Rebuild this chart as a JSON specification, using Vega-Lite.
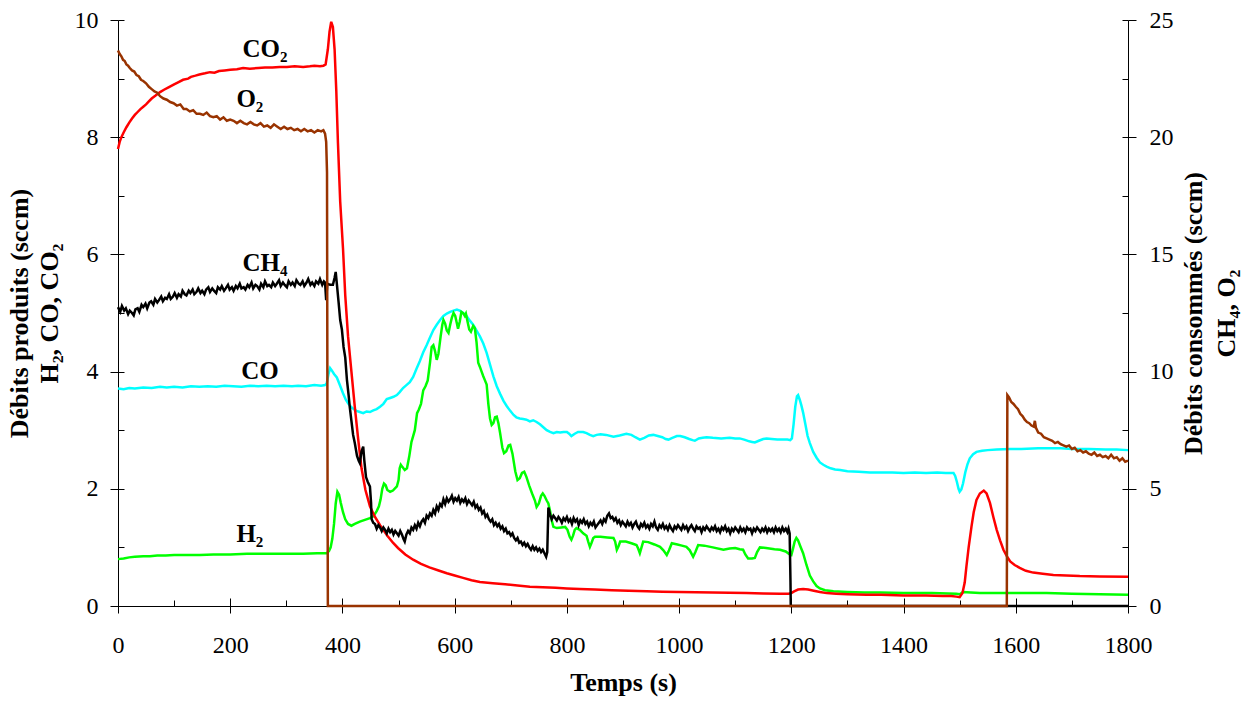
{
  "$schema": "https://vega.github.io/schema/vega-lite/v6.json",
  "width": 1010,
  "height": 586,
  "autosize": {"type": "none"},
  "padding": {"left": 118, "top": 20, "right": 123, "bottom": 98},
  "background": "white",
  "config": {
    "view": {"stroke": null},
    "axis": {
      "grid": false,
      "domainColor": "black",
      "tickColor": "black",
      "labelColor": "black",
      "titleColor": "black",
      "domainWidth": 1,
      "tickWidth": 1,
      "labelFont": "Liberation Serif",
      "titleFont": "Liberation Serif",
      "labelFontSize": 24,
      "titleFontSize": 26,
      "titleFontWeight": "bold",
      "titleLineHeight": 30,
      "labelFlush": false,
      "labelOverlap": false,
      "format": "d"
    }
  },
  "datasets": {
    "co2": [
      {"t":0,"v":7.8},{"t":3,"v":7.92},{"t":6,"v":8.0},{"t":10,"v":8.08},{"t":15,"v":8.17},{"t":20,"v":8.25},{"t":25,"v":8.32},{"t":30,"v":8.38},{"t":35,"v":8.43},{"t":40,"v":8.48},{"t":45,"v":8.52},{"t":50,"v":8.56},{"t":55,"v":8.61},{"t":60,"v":8.66},{"t":67,"v":8.71},{"t":75,"v":8.77},{"t":82,"v":8.81},{"t":90,"v":8.85},{"t":100,"v":8.9},{"t":108,"v":8.94},{"t":116,"v":8.98},{"t":125,"v":9.0},{"t":130,"v":9.03},{"t":138,"v":9.05},{"t":145,"v":9.07},{"t":155,"v":9.09},{"t":164,"v":9.11},{"t":172,"v":9.1},{"t":180,"v":9.13},{"t":190,"v":9.14},{"t":200,"v":9.15},{"t":212,"v":9.16},{"t":223,"v":9.18},{"t":235,"v":9.17},{"t":250,"v":9.18},{"t":262,"v":9.19},{"t":275,"v":9.19},{"t":288,"v":9.2},{"t":301,"v":9.2},{"t":315,"v":9.21},{"t":330,"v":9.2},{"t":342,"v":9.21},{"t":350,"v":9.22},{"t":360,"v":9.21},{"t":366,"v":9.22},{"t":370,"v":9.24},{"t":374,"v":9.5},{"t":377,"v":9.8},{"t":380,"v":9.97},{"t":383,"v":9.88},{"t":386,"v":9.5},{"t":389,"v":8.8},{"t":392,"v":7.9},{"t":396,"v":6.9},{"t":401,"v":6.1},{"t":405,"v":5.3},{"t":410,"v":4.6},{"t":416,"v":4.0},{"t":422,"v":3.4},{"t":428,"v":2.85},{"t":434,"v":2.35},{"t":441,"v":1.98},{"t":449,"v":1.7},{"t":458,"v":1.52},{"t":467,"v":1.38},{"t":480,"v":1.2},{"t":490,"v":1.08},{"t":499,"v":0.99},{"t":512,"v":0.88},{"t":526,"v":0.79},{"t":540,"v":0.72},{"t":555,"v":0.66},{"t":570,"v":0.61},{"t":586,"v":0.56},{"t":600,"v":0.52},{"t":615,"v":0.48},{"t":630,"v":0.44},{"t":645,"v":0.41},{"t":668,"v":0.39},{"t":690,"v":0.37},{"t":712,"v":0.35},{"t":734,"v":0.33},{"t":757,"v":0.32},{"t":780,"v":0.31},{"t":800,"v":0.3},{"t":823,"v":0.29},{"t":850,"v":0.28},{"t":880,"v":0.27},{"t":910,"v":0.26},{"t":942,"v":0.25},{"t":970,"v":0.245},{"t":1000,"v":0.24},{"t":1030,"v":0.235},{"t":1060,"v":0.23},{"t":1090,"v":0.225},{"t":1120,"v":0.22},{"t":1150,"v":0.215},{"t":1180,"v":0.21},{"t":1195,"v":0.21},{"t":1200,"v":0.22},{"t":1205,"v":0.25},{"t":1212,"v":0.28},{"t":1221,"v":0.29},{"t":1230,"v":0.28},{"t":1240,"v":0.26},{"t":1251,"v":0.24},{"t":1263,"v":0.22},{"t":1280,"v":0.21},{"t":1300,"v":0.2},{"t":1334,"v":0.19},{"t":1360,"v":0.19},{"t":1400,"v":0.18},{"t":1440,"v":0.18},{"t":1470,"v":0.17},{"t":1485,"v":0.17},{"t":1494,"v":0.16},{"t":1500,"v":0.15},{"t":1505,"v":0.22},{"t":1509,"v":0.4},{"t":1512,"v":0.67},{"t":1516,"v":1.0},{"t":1521,"v":1.35},{"t":1525,"v":1.6},{"t":1530,"v":1.81},{"t":1536,"v":1.92},{"t":1543,"v":1.97},{"t":1548,"v":1.92},{"t":1554,"v":1.76},{"t":1560,"v":1.52},{"t":1566,"v":1.3},{"t":1572,"v":1.12},{"t":1578,"v":0.96},{"t":1584,"v":0.85},{"t":1590,"v":0.76},{"t":1598,"v":0.7},{"t":1607,"v":0.65},{"t":1618,"v":0.6},{"t":1631,"v":0.57},{"t":1648,"v":0.55},{"t":1667,"v":0.53},{"t":1690,"v":0.52},{"t":1714,"v":0.51},{"t":1750,"v":0.505},{"t":1800,"v":0.5}
    ],
    "co": [
      {"t":0,"v":3.71},{"t":10,"v":3.7},{"t":20,"v":3.72},{"t":30,"v":3.71},{"t":45,"v":3.73},{"t":60,"v":3.72},{"t":75,"v":3.74},{"t":87,"v":3.73},{"t":100,"v":3.74},{"t":115,"v":3.73},{"t":130,"v":3.75},{"t":145,"v":3.74},{"t":160,"v":3.75},{"t":175,"v":3.74},{"t":190,"v":3.76},{"t":205,"v":3.75},{"t":220,"v":3.74},{"t":235,"v":3.76},{"t":250,"v":3.75},{"t":265,"v":3.76},{"t":280,"v":3.75},{"t":295,"v":3.76},{"t":310,"v":3.75},{"t":321,"v":3.76},{"t":335,"v":3.75},{"t":350,"v":3.77},{"t":362,"v":3.76},{"t":369,"v":3.77},{"t":372,"v":3.8},{"t":375,"v":3.95},{"t":378,"v":4.06},{"t":381,"v":4.02},{"t":385,"v":3.96},{"t":390,"v":3.9},{"t":395,"v":3.78},{"t":401,"v":3.63},{"t":406,"v":3.52},{"t":410,"v":3.46},{"t":415,"v":3.4},{"t":420,"v":3.36},{"t":425,"v":3.33},{"t":431,"v":3.31},{"t":437,"v":3.29},{"t":443,"v":3.32},{"t":449,"v":3.31},{"t":455,"v":3.34},{"t":461,"v":3.36},{"t":467,"v":3.4},{"t":473,"v":3.45},{"t":479,"v":3.53},{"t":485,"v":3.55},{"t":491,"v":3.57},{"t":497,"v":3.6},{"t":502,"v":3.65},{"t":508,"v":3.72},{"t":514,"v":3.77},{"t":520,"v":3.82},{"t":526,"v":3.91},{"t":532,"v":4.05},{"t":538,"v":4.18},{"t":544,"v":4.33},{"t":550,"v":4.45},{"t":556,"v":4.58},{"t":562,"v":4.71},{"t":568,"v":4.8},{"t":574,"v":4.88},{"t":580,"v":4.95},{"t":586,"v":4.99},{"t":592,"v":5.02},{"t":598,"v":5.04},{"t":604,"v":5.06},{"t":609,"v":5.04},{"t":615,"v":5.0},{"t":621,"v":4.95},{"t":627,"v":4.87},{"t":633,"v":4.8},{"t":639,"v":4.7},{"t":645,"v":4.6},{"t":651,"v":4.48},{"t":657,"v":4.32},{"t":663,"v":4.12},{"t":669,"v":3.92},{"t":675,"v":3.75},{"t":681,"v":3.62},{"t":687,"v":3.5},{"t":693,"v":3.41},{"t":699,"v":3.33},{"t":705,"v":3.26},{"t":710,"v":3.22},{"t":716,"v":3.2},{"t":722,"v":3.19},{"t":728,"v":3.18},{"t":734,"v":3.15},{"t":740,"v":3.17},{"t":746,"v":3.14},{"t":752,"v":3.1},{"t":758,"v":3.05},{"t":764,"v":3.0},{"t":770,"v":2.97},{"t":776,"v":2.95},{"t":782,"v":2.97},{"t":788,"v":2.96},{"t":794,"v":2.97},{"t":800,"v":2.97},{"t":804,"v":2.94},{"t":808,"v":2.9},{"t":814,"v":2.94},{"t":820,"v":2.97},{"t":829,"v":2.97},{"t":835,"v":2.95},{"t":841,"v":2.92},{"t":847,"v":2.9},{"t":853,"v":2.92},{"t":860,"v":2.93},{"t":870,"v":2.92},{"t":883,"v":2.89},{"t":894,"v":2.91},{"t":906,"v":2.94},{"t":915,"v":2.92},{"t":922,"v":2.88},{"t":930,"v":2.84},{"t":938,"v":2.87},{"t":946,"v":2.91},{"t":954,"v":2.92},{"t":962,"v":2.9},{"t":970,"v":2.88},{"t":976,"v":2.85},{"t":981,"v":2.84},{"t":988,"v":2.87},{"t":996,"v":2.9},{"t":1002,"v":2.9},{"t":1010,"v":2.88},{"t":1018,"v":2.85},{"t":1024,"v":2.83},{"t":1028,"v":2.82},{"t":1035,"v":2.86},{"t":1042,"v":2.87},{"t":1049,"v":2.88},{"t":1060,"v":2.87},{"t":1075,"v":2.86},{"t":1090,"v":2.87},{"t":1100,"v":2.86},{"t":1108,"v":2.86},{"t":1116,"v":2.84},{"t":1125,"v":2.81},{"t":1130,"v":2.8},{"t":1135,"v":2.79},{"t":1142,"v":2.82},{"t":1150,"v":2.85},{"t":1156,"v":2.86},{"t":1165,"v":2.85},{"t":1175,"v":2.84},{"t":1185,"v":2.84},{"t":1193,"v":2.84},{"t":1198,"v":2.83},{"t":1201,"v":2.86},{"t":1204,"v":3.1},{"t":1207,"v":3.4},{"t":1210,"v":3.58},{"t":1212,"v":3.6},{"t":1215,"v":3.52},{"t":1218,"v":3.42},{"t":1221,"v":3.3},{"t":1225,"v":3.1},{"t":1229,"v":2.9},{"t":1233,"v":2.78},{"t":1239,"v":2.63},{"t":1245,"v":2.53},{"t":1251,"v":2.45},{"t":1257,"v":2.41},{"t":1263,"v":2.38},{"t":1270,"v":2.35},{"t":1278,"v":2.33},{"t":1287,"v":2.32},{"t":1300,"v":2.3},{"t":1320,"v":2.29},{"t":1340,"v":2.28},{"t":1358,"v":2.28},{"t":1380,"v":2.28},{"t":1400,"v":2.27},{"t":1420,"v":2.28},{"t":1440,"v":2.27},{"t":1460,"v":2.28},{"t":1475,"v":2.27},{"t":1489,"v":2.27},{"t":1492,"v":2.22},{"t":1495,"v":2.12},{"t":1498,"v":2.0},{"t":1500,"v":1.95},{"t":1503,"v":1.99},{"t":1506,"v":2.09},{"t":1510,"v":2.28},{"t":1514,"v":2.42},{"t":1518,"v":2.52},{"t":1524,"v":2.59},{"t":1530,"v":2.63},{"t":1540,"v":2.65},{"t":1550,"v":2.66},{"t":1566,"v":2.67},{"t":1590,"v":2.68},{"t":1610,"v":2.68},{"t":1640,"v":2.69},{"t":1655,"v":2.69},{"t":1680,"v":2.69},{"t":1700,"v":2.68},{"t":1730,"v":2.68},{"t":1760,"v":2.67},{"t":1780,"v":2.67},{"t":1800,"v":2.66}
    ],
    "h2": [
      {"t":0,"v":0.8},{"t":10,"v":0.81},{"t":20,"v":0.83},{"t":30,"v":0.84},{"t":45,"v":0.85},{"t":57,"v":0.85},{"t":70,"v":0.86},{"t":85,"v":0.86},{"t":100,"v":0.87},{"t":120,"v":0.87},{"t":146,"v":0.87},{"t":170,"v":0.88},{"t":200,"v":0.88},{"t":230,"v":0.89},{"t":265,"v":0.89},{"t":300,"v":0.89},{"t":330,"v":0.89},{"t":355,"v":0.9},{"t":372,"v":0.9},{"t":376,"v":0.94},{"t":379,"v":1.0},{"t":382,"v":1.15},{"t":385,"v":1.4},{"t":388,"v":1.75},{"t":391,"v":1.95},{"t":394,"v":1.9},{"t":397,"v":1.76},{"t":401,"v":1.6},{"t":405,"v":1.48},{"t":410,"v":1.4},{"t":416,"v":1.37},{"t":422,"v":1.4},{"t":431,"v":1.44},{"t":440,"v":1.47},{"t":449,"v":1.5},{"t":455,"v":1.53},{"t":461,"v":1.62},{"t":465,"v":1.7},{"t":468,"v":1.82},{"t":471,"v":2.0},{"t":474,"v":2.09},{"t":477,"v":2.06},{"t":480,"v":1.98},{"t":485,"v":1.95},{"t":490,"v":1.97},{"t":497,"v":2.04},{"t":500,"v":2.15},{"t":502,"v":2.35},{"t":504,"v":2.41},{"t":507,"v":2.37},{"t":511,"v":2.32},{"t":515,"v":2.35},{"t":519,"v":2.55},{"t":523,"v":2.8},{"t":526,"v":2.9},{"t":529,"v":3.0},{"t":533,"v":3.29},{"t":536,"v":3.35},{"t":540,"v":3.45},{"t":544,"v":3.68},{"t":548,"v":3.75},{"t":552,"v":3.85},{"t":556,"v":4.15},{"t":559,"v":4.42},{"t":562,"v":4.45},{"t":565,"v":4.35},{"t":568,"v":4.2},{"t":571,"v":4.3},{"t":575,"v":4.6},{"t":578,"v":4.8},{"t":580,"v":4.88},{"t":583,"v":4.82},{"t":586,"v":4.7},{"t":589,"v":4.66},{"t":592,"v":4.8},{"t":595,"v":4.92},{"t":598,"v":5.0},{"t":601,"v":4.95},{"t":604,"v":4.82},{"t":606,"v":4.73},{"t":609,"v":4.85},{"t":612,"v":5.02},{"t":615,"v":5.0},{"t":618,"v":4.95},{"t":620,"v":4.99},{"t":623,"v":4.85},{"t":626,"v":4.72},{"t":629,"v":4.68},{"t":633,"v":4.78},{"t":636,"v":4.74},{"t":639,"v":4.5},{"t":642,"v":4.15},{"t":645,"v":4.08},{"t":648,"v":4.0},{"t":651,"v":3.92},{"t":654,"v":3.85},{"t":657,"v":3.78},{"t":660,"v":3.45},{"t":663,"v":3.2},{"t":666,"v":3.09},{"t":669,"v":3.12},{"t":672,"v":3.22},{"t":675,"v":3.23},{"t":678,"v":3.12},{"t":681,"v":2.95},{"t":685,"v":2.7},{"t":688,"v":2.61},{"t":692,"v":2.64},{"t":696,"v":2.74},{"t":699,"v":2.75},{"t":703,"v":2.6},{"t":708,"v":2.3},{"t":712,"v":2.15},{"t":716,"v":2.18},{"t":720,"v":2.27},{"t":724,"v":2.29},{"t":728,"v":2.2},{"t":733,"v":2.05},{"t":738,"v":1.92},{"t":743,"v":1.8},{"t":746,"v":1.69},{"t":750,"v":1.75},{"t":754,"v":1.88},{"t":757,"v":1.92},{"t":760,"v":1.88},{"t":764,"v":1.8},{"t":767,"v":1.75},{"t":770,"v":1.62},{"t":773,"v":1.46},{"t":776,"v":1.35},{"t":782,"v":1.33},{"t":790,"v":1.34},{"t":797,"v":1.35},{"t":801,"v":1.3},{"t":805,"v":1.18},{"t":808,"v":1.13},{"t":811,"v":1.2},{"t":814,"v":1.3},{"t":817,"v":1.33},{"t":823,"v":1.3},{"t":829,"v":1.24},{"t":835,"v":1.2},{"t":838,"v":1.1},{"t":841,"v":1.01},{"t":844,"v":1.08},{"t":847,"v":1.16},{"t":850,"v":1.18},{"t":860,"v":1.18},{"t":872,"v":1.17},{"t":883,"v":1.16},{"t":886,"v":1.1},{"t":889,"v":0.96},{"t":892,"v":1.02},{"t":895,"v":1.1},{"t":905,"v":1.1},{"t":915,"v":1.07},{"t":924,"v":1.04},{"t":927,"v":0.98},{"t":930,"v":0.9},{"t":933,"v":1.0},{"t":936,"v":1.1},{"t":945,"v":1.09},{"t":956,"v":1.05},{"t":966,"v":1.01},{"t":972,"v":0.95},{"t":978,"v":0.87},{"t":982,"v":0.95},{"t":987,"v":1.07},{"t":997,"v":1.05},{"t":1005,"v":1.03},{"t":1013,"v":1.01},{"t":1019,"v":0.95},{"t":1025,"v":0.84},{"t":1029,"v":0.92},{"t":1034,"v":1.04},{"t":1045,"v":1.03},{"t":1060,"v":1.0},{"t":1079,"v":0.96},{"t":1090,"v":0.98},{"t":1100,"v":0.99},{"t":1108,"v":0.97},{"t":1114,"v":0.96},{"t":1118,"v":0.88},{"t":1123,"v":0.81},{"t":1130,"v":0.81},{"t":1135,"v":0.82},{"t":1139,"v":0.92},{"t":1144,"v":1.0},{"t":1155,"v":0.99},{"t":1170,"v":0.97},{"t":1180,"v":0.96},{"t":1190,"v":0.93},{"t":1197,"v":0.88},{"t":1200,"v":0.87},{"t":1203,"v":0.98},{"t":1206,"v":1.1},{"t":1209,"v":1.16},{"t":1212,"v":1.12},{"t":1216,"v":1.02},{"t":1221,"v":0.9},{"t":1227,"v":0.7},{"t":1233,"v":0.52},{"t":1239,"v":0.42},{"t":1245,"v":0.34},{"t":1251,"v":0.3},{"t":1260,"v":0.27},{"t":1275,"v":0.25},{"t":1300,"v":0.24},{"t":1330,"v":0.23},{"t":1358,"v":0.23},{"t":1400,"v":0.22},{"t":1450,"v":0.22},{"t":1494,"v":0.21},{"t":1500,"v":0.2},{"t":1506,"v":0.24},{"t":1520,"v":0.23},{"t":1536,"v":0.22},{"t":1600,"v":0.22},{"t":1655,"v":0.22},{"t":1700,"v":0.21},{"t":1750,"v":0.2},{"t":1800,"v":0.19}
    ],
    "ch4": [
      {"t":0,"v":12.75},{"t":4,"v":12.55},{"t":7,"v":12.8},{"t":11,"v":12.6},{"t":14,"v":12.7},{"t":18,"v":12.45},{"t":21,"v":12.6},{"t":25,"v":12.5},{"t":28,"v":12.4},{"t":31,"v":12.65},{"t":35,"v":12.7},{"t":38,"v":12.55},{"t":42,"v":12.85},{"t":45,"v":12.75},{"t":49,"v":12.9},{"t":52,"v":12.7},{"t":56,"v":12.95},{"t":59,"v":13.0},{"t":63,"v":12.85},{"t":66,"v":13.1},{"t":70,"v":12.95},{"t":73,"v":13.05},{"t":77,"v":13.2},{"t":80,"v":13.0},{"t":84,"v":13.15},{"t":87,"v":13.1},{"t":91,"v":13.3},{"t":94,"v":13.1},{"t":98,"v":13.2},{"t":101,"v":13.35},{"t":105,"v":13.15},{"t":108,"v":13.3},{"t":112,"v":13.2},{"t":115,"v":13.45},{"t":119,"v":13.3},{"t":122,"v":13.25},{"t":126,"v":13.45},{"t":129,"v":13.35},{"t":133,"v":13.5},{"t":136,"v":13.3},{"t":140,"v":13.4},{"t":143,"v":13.55},{"t":147,"v":13.35},{"t":150,"v":13.45},{"t":154,"v":13.3},{"t":157,"v":13.5},{"t":161,"v":13.6},{"t":164,"v":13.4},{"t":168,"v":13.55},{"t":171,"v":13.45},{"t":175,"v":13.35},{"t":178,"v":13.6},{"t":182,"v":13.5},{"t":185,"v":13.65},{"t":189,"v":13.45},{"t":192,"v":13.55},{"t":196,"v":13.7},{"t":199,"v":13.5},{"t":203,"v":13.6},{"t":206,"v":13.45},{"t":210,"v":13.65},{"t":213,"v":13.55},{"t":217,"v":13.75},{"t":220,"v":13.55},{"t":224,"v":13.6},{"t":227,"v":13.5},{"t":231,"v":13.7},{"t":234,"v":13.6},{"t":238,"v":13.8},{"t":241,"v":13.55},{"t":245,"v":13.7},{"t":248,"v":13.65},{"t":252,"v":13.5},{"t":255,"v":13.75},{"t":259,"v":13.6},{"t":262,"v":13.85},{"t":266,"v":13.65},{"t":269,"v":13.7},{"t":273,"v":13.6},{"t":276,"v":13.8},{"t":280,"v":13.65},{"t":283,"v":13.75},{"t":287,"v":13.9},{"t":290,"v":13.65},{"t":294,"v":13.8},{"t":297,"v":13.7},{"t":301,"v":13.6},{"t":304,"v":13.85},{"t":308,"v":13.7},{"t":311,"v":13.8},{"t":315,"v":13.65},{"t":318,"v":13.9},{"t":322,"v":13.75},{"t":325,"v":13.7},{"t":329,"v":13.85},{"t":332,"v":13.65},{"t":336,"v":13.8},{"t":339,"v":13.95},{"t":343,"v":13.7},{"t":346,"v":13.8},{"t":350,"v":13.65},{"t":353,"v":13.85},{"t":357,"v":13.75},{"t":360,"v":13.95},{"t":364,"v":13.7},{"t":367,"v":13.85},{"t":369,"v":13.8},{"t":371,"v":13.05},{"t":373,"v":13.75},{"t":378,"v":13.7},{"t":383,"v":13.7},{"t":386,"v":14.0},{"t":388,"v":14.25},{"t":390,"v":13.75},{"t":393,"v":13.0},{"t":396,"v":12.2},{"t":399,"v":11.8},{"t":402,"v":11.05},{"t":405,"v":10.6},{"t":408,"v":9.65},{"t":411,"v":9.0},{"t":413,"v":8.5},{"t":416,"v":7.9},{"t":419,"v":7.3},{"t":422,"v":6.95},{"t":426,"v":6.4},{"t":429,"v":6.2},{"t":431,"v":6.1},{"t":434,"v":6.6},{"t":437,"v":6.8},{"t":439,"v":6.2},{"t":442,"v":5.5},{"t":445,"v":5.3},{"t":449,"v":5.1},{"t":451,"v":4.4},{"t":452,"v":3.7},{"t":455,"v":3.55},{"t":458,"v":3.5},{"t":461,"v":3.3},{"t":464,"v":3.45},{"t":467,"v":3.35},{"t":470,"v":3.2},{"t":473,"v":3.35},{"t":476,"v":3.25},{"t":479,"v":3.1},{"t":482,"v":3.3},{"t":485,"v":3.15},{"t":488,"v":3.25},{"t":491,"v":3.05},{"t":494,"v":3.2},{"t":497,"v":3.1},{"t":500,"v":3.0},{"t":503,"v":3.2},{"t":506,"v":3.05},{"t":509,"v":2.85},{"t":511,"v":2.75},{"t":514,"v":3.05},{"t":517,"v":3.2},{"t":520,"v":3.1},{"t":523,"v":3.35},{"t":526,"v":3.25},{"t":529,"v":3.45},{"t":532,"v":3.3},{"t":535,"v":3.55},{"t":538,"v":3.4},{"t":541,"v":3.6},{"t":544,"v":3.7},{"t":547,"v":3.55},{"t":550,"v":3.85},{"t":553,"v":3.75},{"t":556,"v":3.95},{"t":559,"v":3.85},{"t":562,"v":4.1},{"t":565,"v":3.95},{"t":568,"v":4.25},{"t":571,"v":4.1},{"t":574,"v":4.35},{"t":577,"v":4.25},{"t":580,"v":4.55},{"t":583,"v":4.35},{"t":586,"v":4.6},{"t":589,"v":4.45},{"t":592,"v":4.55},{"t":595,"v":4.7},{"t":598,"v":4.45},{"t":601,"v":4.6},{"t":604,"v":4.5},{"t":607,"v":4.65},{"t":610,"v":4.4},{"t":613,"v":4.55},{"t":616,"v":4.45},{"t":619,"v":4.6},{"t":622,"v":4.35},{"t":625,"v":4.5},{"t":628,"v":4.4},{"t":631,"v":4.3},{"t":634,"v":4.45},{"t":637,"v":4.2},{"t":640,"v":4.3},{"t":643,"v":4.1},{"t":646,"v":4.2},{"t":649,"v":3.95},{"t":652,"v":4.05},{"t":655,"v":3.8},{"t":658,"v":3.9},{"t":661,"v":3.7},{"t":664,"v":3.6},{"t":667,"v":3.7},{"t":670,"v":3.45},{"t":673,"v":3.55},{"t":676,"v":3.4},{"t":679,"v":3.5},{"t":682,"v":3.3},{"t":685,"v":3.4},{"t":688,"v":3.2},{"t":691,"v":3.3},{"t":694,"v":3.1},{"t":697,"v":3.15},{"t":700,"v":3.0},{"t":703,"v":3.1},{"t":706,"v":2.9},{"t":709,"v":2.8},{"t":712,"v":2.9},{"t":715,"v":2.7},{"t":718,"v":2.75},{"t":721,"v":2.6},{"t":724,"v":2.7},{"t":727,"v":2.55},{"t":730,"v":2.65},{"t":733,"v":2.5},{"t":736,"v":2.4},{"t":739,"v":2.55},{"t":742,"v":2.4},{"t":745,"v":2.5},{"t":748,"v":2.35},{"t":751,"v":2.45},{"t":754,"v":2.3},{"t":757,"v":2.4},{"t":760,"v":2.25},{"t":763,"v":2.1},{"t":765,"v":2.3},{"t":767,"v":4.2},{"t":770,"v":3.9},{"t":773,"v":3.7},{"t":776,"v":3.85},{"t":779,"v":3.75},{"t":782,"v":3.65},{"t":785,"v":3.8},{"t":788,"v":3.7},{"t":791,"v":3.55},{"t":794,"v":3.75},{"t":797,"v":3.65},{"t":800,"v":3.8},{"t":803,"v":3.6},{"t":806,"v":3.7},{"t":809,"v":3.5},{"t":812,"v":3.75},{"t":815,"v":3.6},{"t":818,"v":3.7},{"t":821,"v":3.45},{"t":824,"v":3.65},{"t":827,"v":3.55},{"t":830,"v":3.7},{"t":833,"v":3.5},{"t":836,"v":3.6},{"t":839,"v":3.4},{"t":842,"v":3.55},{"t":845,"v":3.45},{"t":848,"v":3.6},{"t":851,"v":3.35},{"t":854,"v":3.45},{"t":857,"v":3.55},{"t":860,"v":3.65},{"t":863,"v":3.5},{"t":866,"v":3.7},{"t":869,"v":3.6},{"t":872,"v":3.85},{"t":875,"v":3.95},{"t":878,"v":3.75},{"t":881,"v":3.8},{"t":884,"v":3.65},{"t":887,"v":3.75},{"t":890,"v":3.55},{"t":893,"v":3.65},{"t":896,"v":3.45},{"t":899,"v":3.6},{"t":902,"v":3.5},{"t":905,"v":3.4},{"t":908,"v":3.6},{"t":911,"v":3.45},{"t":914,"v":3.55},{"t":917,"v":3.35},{"t":920,"v":3.5},{"t":923,"v":3.6},{"t":926,"v":3.4},{"t":929,"v":3.3},{"t":932,"v":3.5},{"t":935,"v":3.4},{"t":938,"v":3.55},{"t":941,"v":3.35},{"t":944,"v":3.45},{"t":947,"v":3.3},{"t":950,"v":3.5},{"t":953,"v":3.4},{"t":956,"v":3.6},{"t":959,"v":3.35},{"t":962,"v":3.25},{"t":965,"v":3.45},{"t":968,"v":3.35},{"t":971,"v":3.5},{"t":974,"v":3.3},{"t":977,"v":3.4},{"t":980,"v":3.25},{"t":983,"v":3.45},{"t":986,"v":3.3},{"t":989,"v":3.2},{"t":992,"v":3.4},{"t":995,"v":3.3},{"t":998,"v":3.45},{"t":1001,"v":3.35},{"t":1004,"v":3.25},{"t":1007,"v":3.45},{"t":1010,"v":3.3},{"t":1013,"v":3.4},{"t":1016,"v":3.2},{"t":1019,"v":3.35},{"t":1022,"v":3.45},{"t":1025,"v":3.3},{"t":1028,"v":3.2},{"t":1031,"v":3.4},{"t":1034,"v":3.3},{"t":1037,"v":3.35},{"t":1040,"v":3.15},{"t":1043,"v":3.35},{"t":1046,"v":3.25},{"t":1049,"v":3.4},{"t":1052,"v":3.3},{"t":1055,"v":3.2},{"t":1058,"v":3.35},{"t":1061,"v":3.25},{"t":1064,"v":3.4},{"t":1067,"v":3.2},{"t":1070,"v":3.3},{"t":1073,"v":3.15},{"t":1076,"v":3.35},{"t":1079,"v":3.25},{"t":1082,"v":3.4},{"t":1085,"v":3.2},{"t":1088,"v":3.3},{"t":1091,"v":3.1},{"t":1094,"v":3.3},{"t":1097,"v":3.2},{"t":1100,"v":3.35},{"t":1103,"v":3.25},{"t":1106,"v":3.15},{"t":1109,"v":3.35},{"t":1112,"v":3.2},{"t":1115,"v":3.3},{"t":1118,"v":3.15},{"t":1121,"v":3.35},{"t":1124,"v":3.25},{"t":1127,"v":3.3},{"t":1130,"v":3.1},{"t":1133,"v":3.3},{"t":1136,"v":3.2},{"t":1139,"v":3.35},{"t":1142,"v":3.25},{"t":1145,"v":3.15},{"t":1148,"v":3.3},{"t":1151,"v":3.2},{"t":1154,"v":3.35},{"t":1157,"v":3.15},{"t":1160,"v":3.3},{"t":1163,"v":3.2},{"t":1166,"v":3.3},{"t":1169,"v":3.15},{"t":1172,"v":3.35},{"t":1175,"v":3.2},{"t":1178,"v":3.3},{"t":1181,"v":3.15},{"t":1184,"v":3.35},{"t":1187,"v":3.2},{"t":1190,"v":3.3},{"t":1193,"v":3.15},{"t":1195,"v":3.3},{"t":1197,"v":3.1},{"t":1198.5,"v":1.0},{"t":1199,"v":0},{"t":1800,"v":0}
    ],
    "o2": [
      {"t":0,"v":23.7},{"t":3,"v":23.55},{"t":6,"v":23.45},{"t":9,"v":23.3},{"t":12,"v":23.25},{"t":15,"v":23.1},{"t":18,"v":23.05},{"t":21,"v":22.95},{"t":25,"v":22.85},{"t":29,"v":22.8},{"t":33,"v":22.65},{"t":37,"v":22.6},{"t":41,"v":22.45},{"t":45,"v":22.4},{"t":50,"v":22.3},{"t":55,"v":22.15},{"t":60,"v":22.05},{"t":65,"v":21.95},{"t":70,"v":21.9},{"t":75,"v":21.75},{"t":81,"v":21.65},{"t":87,"v":21.6},{"t":93,"v":21.5},{"t":99,"v":21.45},{"t":105,"v":21.35},{"t":111,"v":21.4},{"t":117,"v":21.2},{"t":122,"v":21.2},{"t":128,"v":21.1},{"t":134,"v":21.15},{"t":140,"v":21.0},{"t":146,"v":21.0},{"t":152,"v":20.95},{"t":158,"v":21.05},{"t":164,"v":20.9},{"t":170,"v":20.85},{"t":176,"v":20.9},{"t":182,"v":20.75},{"t":188,"v":20.85},{"t":194,"v":20.7},{"t":200,"v":20.75},{"t":206,"v":20.7},{"t":212,"v":20.6},{"t":218,"v":20.7},{"t":224,"v":20.6},{"t":230,"v":20.55},{"t":236,"v":20.65},{"t":242,"v":20.55},{"t":248,"v":20.5},{"t":254,"v":20.6},{"t":260,"v":20.45},{"t":266,"v":20.5},{"t":272,"v":20.4},{"t":278,"v":20.55},{"t":284,"v":20.45},{"t":290,"v":20.35},{"t":296,"v":20.45},{"t":302,"v":20.35},{"t":308,"v":20.4},{"t":314,"v":20.3},{"t":320,"v":20.35},{"t":326,"v":20.25},{"t":332,"v":20.35},{"t":338,"v":20.25},{"t":344,"v":20.3},{"t":350,"v":20.2},{"t":356,"v":20.3},{"t":362,"v":20.25},{"t":366,"v":20.3},{"t":369,"v":20.15},{"t":371,"v":19.8},{"t":372.5,"v":18.5},{"t":373.5,"v":5},{"t":374,"v":0},{"t":1584,"v":0},{"t":1585,"v":9.0},{"t":1588,"v":8.9},{"t":1592,"v":8.7},{"t":1596,"v":8.62},{"t":1600,"v":8.5},{"t":1604,"v":8.4},{"t":1608,"v":8.2},{"t":1612,"v":8.1},{"t":1616,"v":7.95},{"t":1620,"v":7.85},{"t":1624,"v":7.8},{"t":1628,"v":7.7},{"t":1632,"v":7.65},{"t":1634,"v":7.9},{"t":1636,"v":7.6},{"t":1640,"v":7.4},{"t":1645,"v":7.35},{"t":1650,"v":7.2},{"t":1655,"v":7.15},{"t":1660,"v":7.1},{"t":1665,"v":7.05},{"t":1670,"v":6.95},{"t":1675,"v":7.0},{"t":1680,"v":6.9},{"t":1685,"v":6.85},{"t":1690,"v":6.8},{"t":1695,"v":6.85},{"t":1700,"v":6.7},{"t":1705,"v":6.75},{"t":1710,"v":6.6},{"t":1715,"v":6.65},{"t":1720,"v":6.55},{"t":1725,"v":6.6},{"t":1730,"v":6.5},{"t":1735,"v":6.45},{"t":1740,"v":6.55},{"t":1745,"v":6.4},{"t":1750,"v":6.45},{"t":1755,"v":6.35},{"t":1760,"v":6.4},{"t":1765,"v":6.3},{"t":1770,"v":6.45},{"t":1775,"v":6.3},{"t":1780,"v":6.35},{"t":1785,"v":6.2},{"t":1790,"v":6.3},{"t":1795,"v":6.15},{"t":1800,"v":6.2}
    ],
    "labels": [
      {"t":262,"v":9.37,"label":"CO₂"},
      {"t":235,"v":8.52,"label":"O₂"},
      {"t":262,"v":5.72,"label":"CH₄"},
      {"t":253,"v":3.87,"label":"CO"},
      {"t":235,"v":1.1,"label":"H₂"}
    ]
  },
  "layer": [
    {
      "layer": [
        {
          "data": {"name": "co"},
          "mark": {"type": "line", "color": "#00FFFF", "strokeWidth": 2.5},
          "encoding": {
            "x": {"field": "t", "type": "quantitative", "scale": {"domain": [0, 1800], "nice": false},
              "axis": {"orient": "bottom", "values": [0,200,400,600,800,1000,1200,1400,1600,1800], "tickSize": 7, "labelPadding": 20, "title": "Temps (s)", "titlePadding": 12}},
            "y": {"field": "v", "type": "quantitative", "scale": {"domain": [0, 10], "nice": false},
              "axis": {"orient": "left", "values": [0,2,4,6,8,10], "tickSize": 8, "labelPadding": 12, "title": ["Débits produits (sccm)", "H₂, CO, CO₂"], "titlePadding": 12}}
          }
        },
        {
          "data": {"name": "h2"},
          "mark": {"type": "line", "color": "#00FF00", "strokeWidth": 2.5},
          "encoding": {
            "x": {"field": "t", "type": "quantitative", "scale": {"domain": [0, 1800], "nice": false},
              "axis": {"orient": "bottom", "values": [0,100,200,300,400,500,600,700,800,900,1000,1100,1200,1300,1400,1500,1600,1700,1800], "tickSize": -6, "labels": false, "domain": false, "title": null}},
            "y": {"field": "v", "type": "quantitative", "scale": {"domain": [0, 10], "nice": false},
              "axis": {"orient": "left", "values": [0,1,2,3,4,5,6,7,8,9,10], "tickSize": -6, "labels": false, "domain": false, "title": null}}
          }
        },
        {
          "data": {"name": "co2"},
          "mark": {"type": "line", "color": "#FF0000", "strokeWidth": 2.5},
          "encoding": {
            "x": {"field": "t", "type": "quantitative", "scale": {"domain": [0, 1800], "nice": false},
              "axis": {"orient": "bottom", "values": [0,200,400,600,800,1000,1200,1400,1600,1800], "tickSize": -8, "labels": false, "domain": false, "title": null}},
            "y": {"field": "v", "type": "quantitative", "scale": {"domain": [0, 10], "nice": false}, "axis": null}
          }
        },
        {
          "data": {"name": "labels"},
          "mark": {"type": "text", "font": "Liberation Serif", "fontSize": 25, "fontWeight": "bold", "align": "center", "baseline": "alphabetic", "color": "black"},
          "encoding": {
            "x": {"field": "t", "type": "quantitative", "scale": {"domain": [0, 1800], "nice": false}, "axis": null},
            "y": {"field": "v", "type": "quantitative", "scale": {"domain": [0, 10], "nice": false}, "axis": null},
            "text": {"field": "label"}
          }
        }
      ],
      "resolve": {"axis": {"x": "independent", "y": "independent"}}
    },
    {
      "layer": [
        {
          "data": {"name": "ch4"},
          "mark": {"type": "line", "color": "#000000", "strokeWidth": 2.5},
          "encoding": {
            "x": {"field": "t", "type": "quantitative", "scale": {"domain": [0, 1800], "nice": false}, "axis": null},
            "y": {"field": "v", "type": "quantitative", "scale": {"domain": [0, 25], "nice": false},
              "axis": {"orient": "right", "values": [0,5,10,15,20,25], "tickSize": 8, "labelPadding": 13, "title": ["Débits consommés (sccm)", "CH₄, O₂"], "titleAngle": 270, "titleBaseline": "top", "titlePadding": -26, "titleLineHeight": 33}}
          }
        },
        {
          "data": {"name": "o2"},
          "mark": {"type": "line", "color": "#993300", "strokeWidth": 2.5},
          "encoding": {
            "x": {"field": "t", "type": "quantitative", "scale": {"domain": [0, 1800], "nice": false}, "axis": null},
            "y": {"field": "v", "type": "quantitative", "scale": {"domain": [0, 25], "nice": false},
              "axis": {"orient": "right", "values": [0,2.5,5,7.5,10,12.5,15,17.5,20,22.5,25], "tickSize": -6, "labels": false, "domain": false, "title": null}}
          }
        }
      ],
      "resolve": {"axis": {"x": "independent", "y": "independent"}}
    }
  ],
  "resolve": {"scale": {"y": "independent"}, "axis": {"x": "independent", "y": "independent"}}
}
